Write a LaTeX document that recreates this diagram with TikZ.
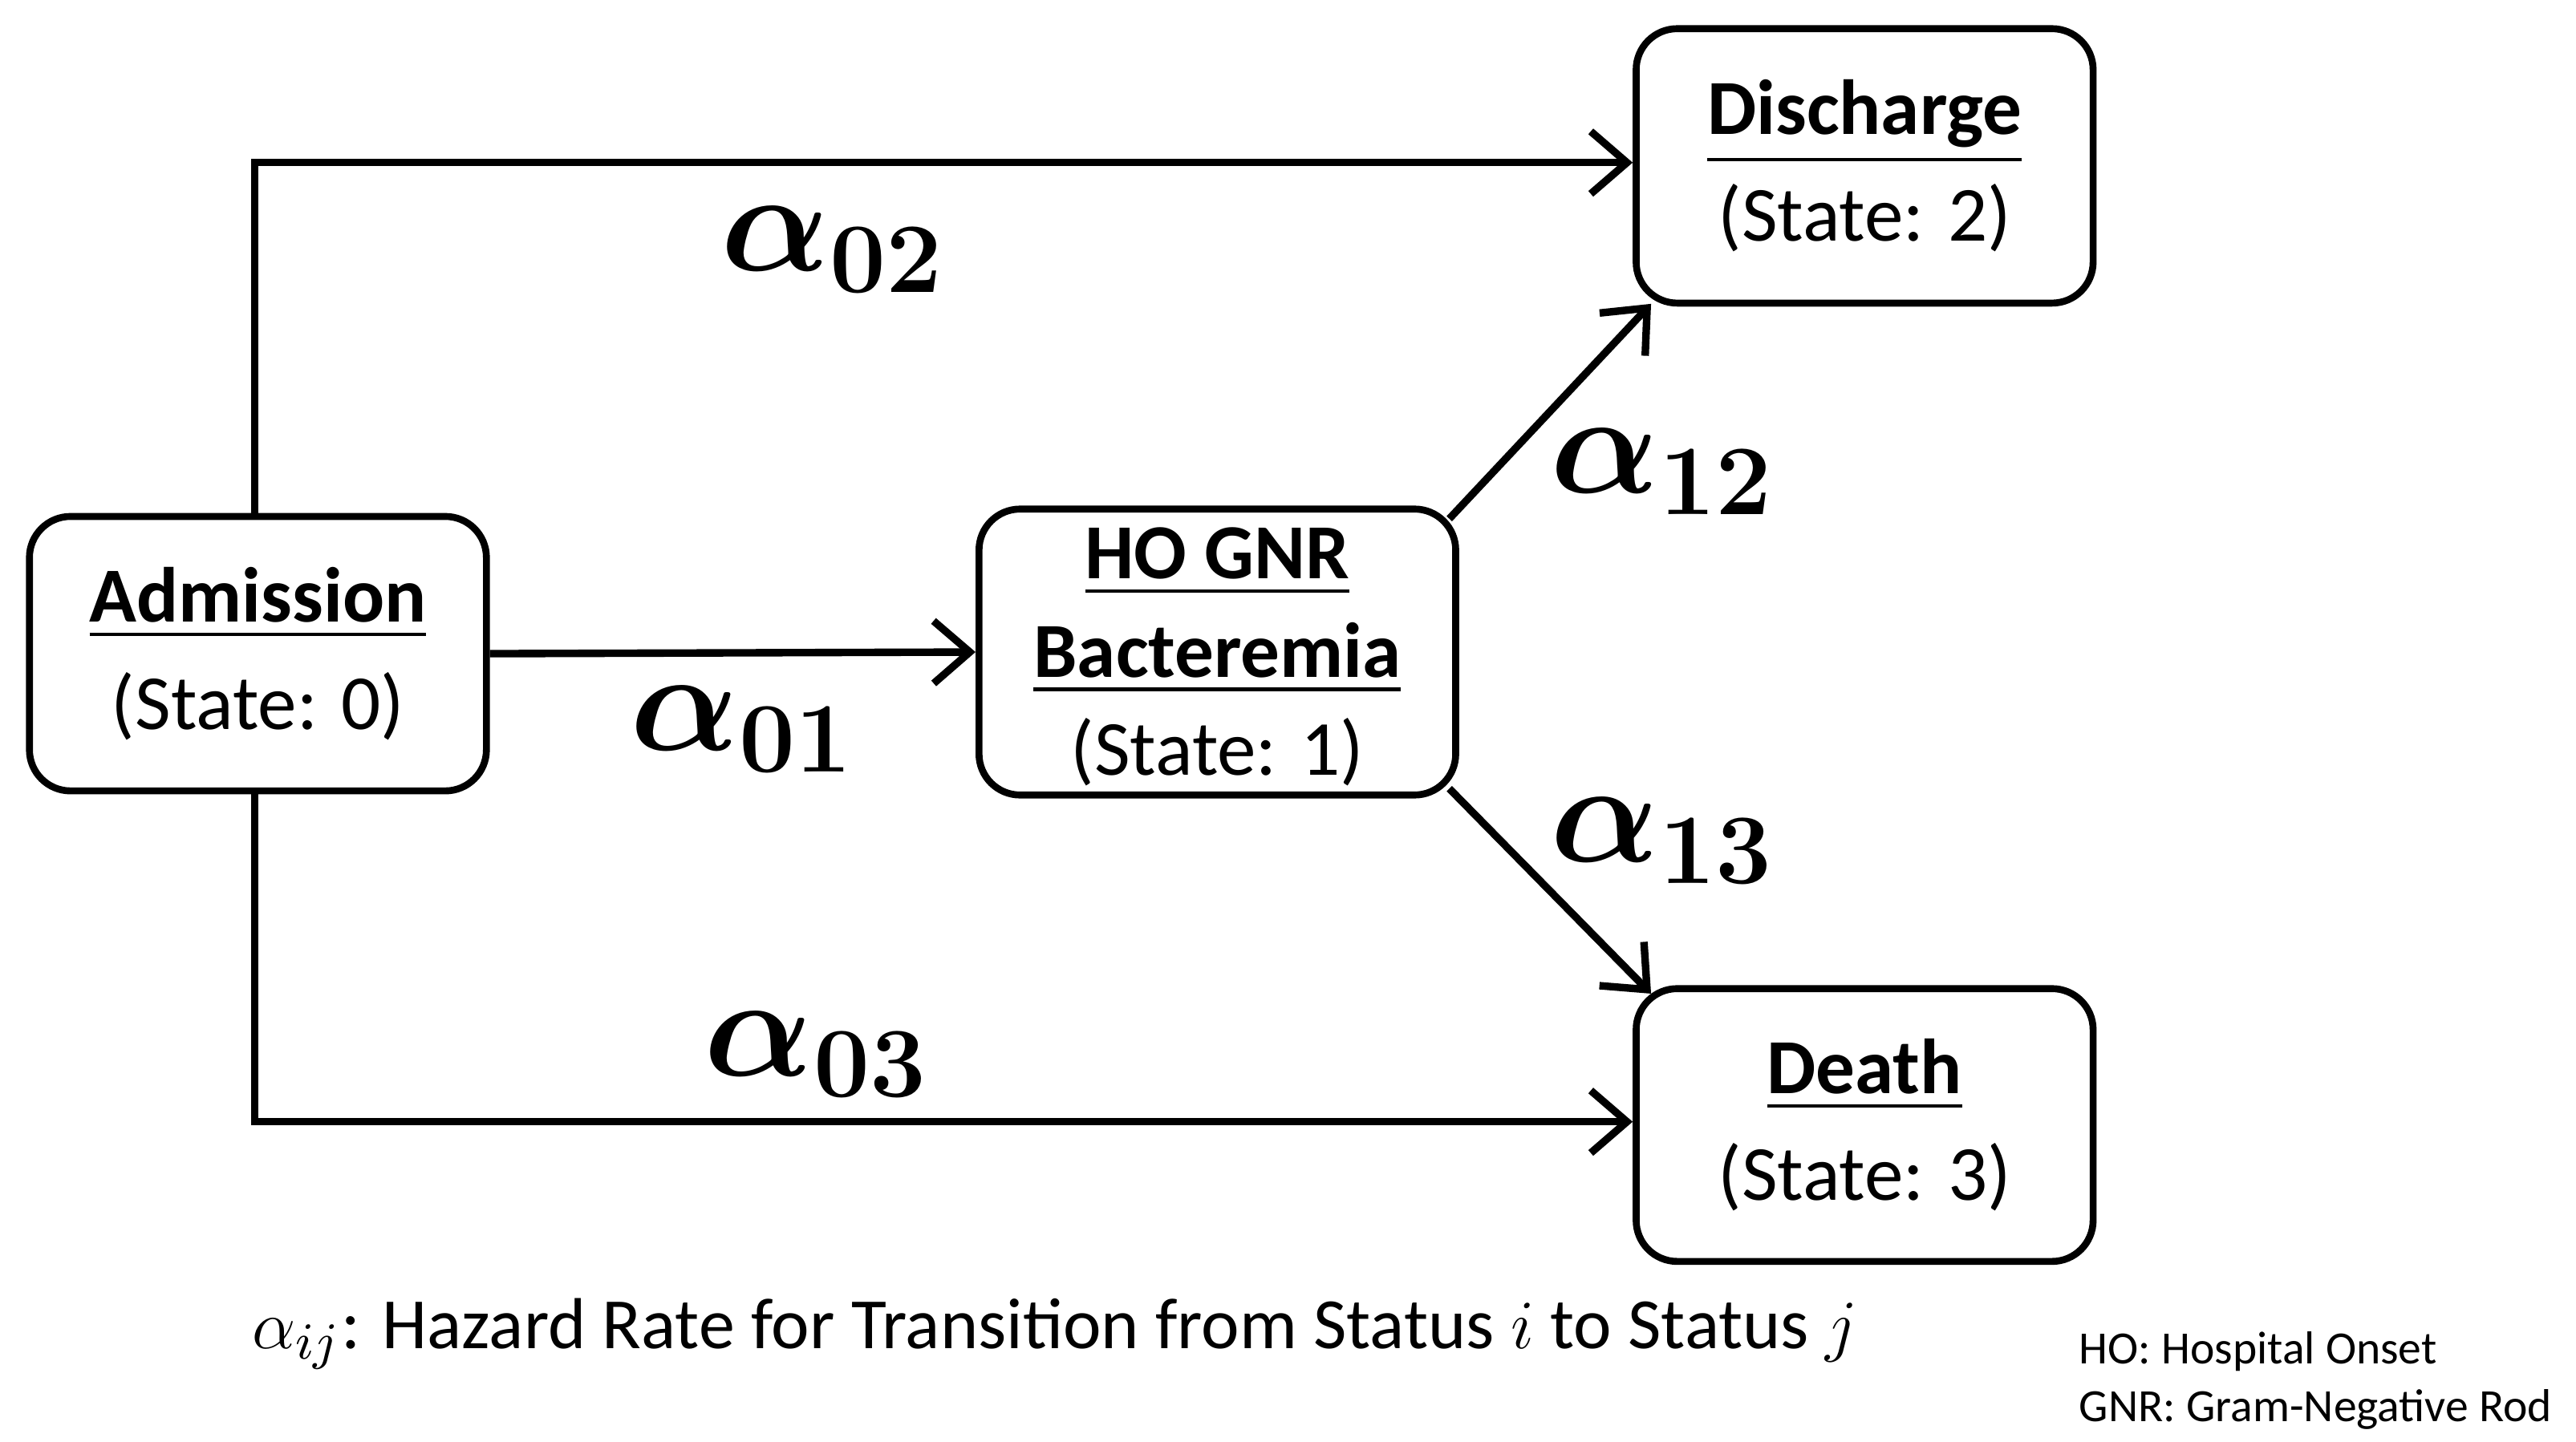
\documentclass[tikz,border=0pt]{standalone}
\usepackage{amsmath,bm}
\usepackage{fontspec}
\setmainfont{Carlito}
\usetikzlibrary{arrows.meta}
\begin{document}
\begin{tikzpicture}[x=0.01cm,y=-0.01cm,
  st/.style={draw,line width=1.2pt,rounded corners=0.25cm,minimum width=2.78cm,align=center,font=\fontsize{13.5}{17}\selectfont,inner sep=0pt},
  ar/.style={line width=1.3pt,-{Straight Barb[length=0.22cm,width=0.38cm,line width=1.3pt]}},
  lab/.style={font=\fontsize{24}{28}\selectfont}]
\useasboundingbox (0,0) rectangle (1568,878);
\node[st,minimum height=1.67cm] (adm) at (157,398) {\textbf{\underline{Admission}}\\[1.5pt](State: 0)};
\node[st,minimum height=1.74cm,minimum width=2.9cm] (ho) at (741,397) {};
\node[align=center,font=\fontsize{13.5}{17}\selectfont,inner sep=0pt] (hot) at (741,400) {\textbf{\underline{HO GNR}}\\\textbf{\underline{Bacteremia}}\\(State: 1)};
\node[st,minimum height=1.67cm] (dis) at (1135,101) {\textbf{\underline{Discharge}}\\[1.5pt](State: 2)};
\node[st,minimum height=1.66cm] (dea) at (1135,685) {\textbf{\underline{Death}}\\[1.5pt](State: 3)};
\coordinate (c1) at (155,99);
\coordinate (c2) at (155,683);
\draw[ar] (adm.north -| c1) -- (c1) -- (dis.west |- c1);
\draw[ar] (adm.south -| c2) -- (c2) -- (dea.west |- c2);
\draw[ar] (adm.east) -- (ho.west);
\draw[ar] (ho.north east) ++(-6,8) coordinate (h1) -- (1005,185) coordinate (d1);
\draw[ar] (ho.south east) ++(-6,-6) coordinate (h2) -- (1005,605) coordinate (d2);
\node[lab] (l02) at (507,152) {$\bm{\alpha}_{\bm{02}}$};
\node[lab] (l01) at (452,444) {$\bm{\alpha}_{\bm{01}}$};
\node[lab] (l03) at (497,642) {$\bm{\alpha}_{\bm{03}}$};
\node[lab] (l12) at (1012,287) {$\bm{\alpha}_{\bm{12}}$};
\node[lab] (l13) at (1012,512) {$\bm{\alpha}_{\bm{13}}$};
\node[font=\fontsize{12.5}{16}\selectfont] (cap) at (642,812) {$\alpha_{ij}$: Hazard Rate for Transition from Status $i$ to Status $j$};
\node[font=\fontsize{8}{10}\selectfont,align=left,anchor=north west,inner sep=0pt] (fn) at (1265,810) {HO: Hospital Onset\\GNR: Gram-Negative Rod};
\end{tikzpicture}
\end{document}
